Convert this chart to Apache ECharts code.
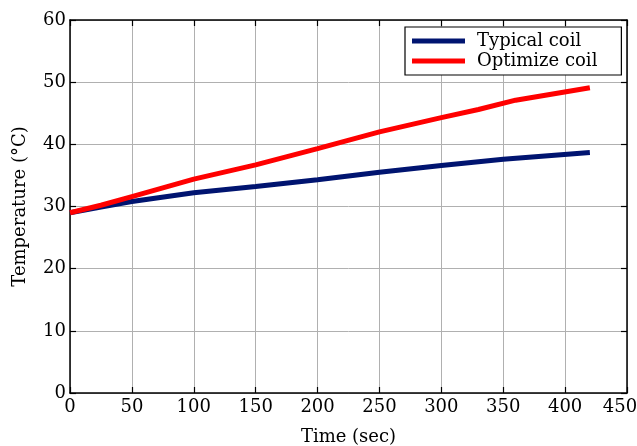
<!DOCTYPE html>
<html>
<head>
<meta charset="utf-8">
<script src="https://cdn.jsdelivr.net/npm/echarts@6/dist/echarts.min.js"></script>
<style>html,body{margin:0;padding:0;background:#fff;}#c{width:637px;height:446px;}</style>
</head>
<body>
<div id="c"></div>
<script>
const timeTypical = [0, 25, 50, 100, 150, 200, 250, 300, 350, 420];
const typicalCoil = [29, 29.9, 30.8, 32.2, 33.2, 34.3, 35.5, 36.6, 37.6, 38.7];
const timeOptimize = [0, 25, 50, 100, 150, 200, 250, 300, 330, 360, 420];
const optimizeCoil = [29, 30.2, 31.6, 34.4, 36.7, 39.3, 42.0, 44.3, 45.6, 47.1, 49.1];
const seriesNames = ['Typical coil', 'Optimize coil'];

const font = 'DejaVu Serif';
const chart = echarts.init(document.getElementById('c'));
const boxAxis = {
  axisLine: {show: true, onZero: false, lineStyle: {color: '#000', width: 1.5}},
  axisTick: {show: true, inside: true, length: 6, lineStyle: {color: '#000', width: 1.2}},
};
chart.setOption({
  animation: false,
  grid: {left: 70, right: 10, top: 20, bottom: 53, outerBoundsMode: 'none', containLabel: false},
  legend: {
    orient: 'vertical', left: 405, top: 27,
    data: seriesNames,
    icon: 'rect', itemWidth: 53, itemHeight: 5, itemGap: 2,
    borderColor: '#000', borderWidth: 1.2, padding: [5, 24, 5, 7],
    backgroundColor: '#fff',
    textStyle: {fontFamily: font, fontSize: 18, color: '#000', padding: [0, 0, 0, 7]}
  },
  xAxis: [{
    type: 'value', min: 0, max: 450, interval: 50,
    name: 'Time (sec)', nameLocation: 'middle', nameGap: 35,
    nameTextStyle: {fontFamily: font, fontSize: 18, color: '#000'},
    ...boxAxis,
    axisLabel: {
      fontFamily: font, fontSize: 18, color: '#000', margin: 5,
      formatter: v => v === 450 ? '{last|' + v + '}' : String(v),
      rich: {last: {fontFamily: font, fontSize: 18, color: '#000', padding: [0, 14, 0, 0]}}
    },
    splitLine: {show: true, lineStyle: {color: '#b0b0b0', width: 1}}
  }, {
    type: 'value', min: 0, max: 450, interval: 50, position: 'top',
    ...boxAxis, axisLabel: {show: false}, splitLine: {show: false}
  }],
  yAxis: [{
    type: 'value', min: 0, max: 60, interval: 10,
    name: 'Temperature (°C)', nameLocation: 'middle', nameGap: 41,
    nameTextStyle: {fontFamily: font, fontSize: 18, color: '#000'},
    ...boxAxis,
    axisLabel: {fontFamily: font, fontSize: 18, color: '#000', margin: 4},
    splitLine: {show: true, lineStyle: {color: '#b0b0b0', width: 1}}
  }, {
    type: 'value', min: 0, max: 60, interval: 10, position: 'right',
    ...boxAxis, axisLabel: {show: false}, splitLine: {show: false}
  }],
  series: [{
    name: seriesNames[0], type: 'line', showSymbol: false,
    data: timeTypical.map((t, i) => [t, typicalCoil[i]]),
    itemStyle: {color: '#001470'},
    lineStyle: {color: '#001470', width: 5}
  }, {
    name: seriesNames[1], type: 'line', showSymbol: false,
    data: timeOptimize.map((t, i) => [t, optimizeCoil[i]]),
    itemStyle: {color: '#ff0000'},
    lineStyle: {color: '#ff0000', width: 5}
  }]
});
</script>
</body>
</html>
